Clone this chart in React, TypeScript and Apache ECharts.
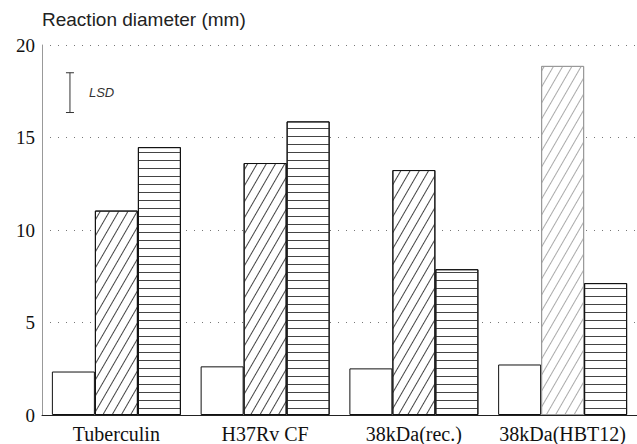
import React, { useEffect, useRef } from "react";
import * as echarts from "echarts";

const categories = ["Tuberculin", "H37Rv CF", "38kDa(rec.)", "38kDa(HBT12)"];
const seriesOpen = [2.35, 2.63, 2.52, 2.73];
const seriesHatched = [11.05, 13.62, 13.24, 18.87];
const seriesLined = [14.48, 15.87, 7.88, 7.13];
const yTicks = { min: 0, max: 20, interval: 5 };
const lsdRange = [16.35, 18.5];
const titleText = "Reaction diameter (mm)";

export default function App() {
  const ref = useRef<HTMLDivElement>(null);
  useEffect(() => {
    if (!ref.current) return;
    const chart = echarts.init(ref.current, null, { renderer: "svg" });
    const barBase = { color: "#fff", borderColor: "#111", borderWidth: 1 };
    const option: any = {
      animation: false,
      backgroundColor: "#fff",
      grid: { left: 42, top: 45, width: 608, height: 373 },
      graphic: [
        {
          type: "text",
          left: 42,
          top: 10,
          style: {
            text: titleText,
            font: "19px 'Liberation Sans', Arial, sans-serif",
            fill: "#222",
          },
        },
      ],
      xAxis: {
        type: "category",
        data: categories,
        axisTick: { show: false },
        axisLine: { lineStyle: { color: "#222", width: 1 } },
        axisLabel: {
          interval: 0,
          margin: 9,
          color: "#111",
          fontFamily: "'Liberation Serif', 'Times New Roman', serif",
          fontSize: 20,
        },
      },
      yAxis: {
        type: "value",
        min: yTicks.min,
        max: yTicks.max,
        interval: yTicks.interval,
        axisLine: { show: true, lineStyle: { color: "#999", width: 1 } },
        axisTick: { show: false },
        axisLabel: {
          margin: 7,
          color: "#111",
          fontFamily: "'Liberation Serif', 'Times New Roman', serif",
          fontSize: 19,
        },
        splitLine: { show: true, lineStyle: { color: "#777", type: [1, 7], width: 1 } },
      },
      series: [
        {
          type: "bar",
          data: seriesOpen,
          barWidth: 43,
          barGap: "0%",
          itemStyle: barBase,
        },
        {
          type: "bar",
          data: seriesHatched.map((v, i) =>
            i === 3
              ? {
                  value: v,
                  itemStyle: {
                    borderColor: "#999",
                    decal: {
                      symbol: "rect",
                      symbolSize: 1,
                      dashArrayX: [1, 0],
                      dashArrayY: [0.8, 6.7],
                      rotation: -Math.PI / 3,
                      color: "#aaa",
                    },
                  },
                }
              : v
          ),
          barWidth: 43,
          barGap: "0%",
          itemStyle: {
            ...barBase,
            decal: {
              symbol: "rect",
              symbolSize: 1,
              dashArrayX: [1, 0],
              dashArrayY: [0.8, 6.7],
              rotation: -Math.PI / 3,
              color: "#444",
            },
          },
        },
        {
          type: "bar",
          data: seriesLined,
          barWidth: 43,
          barGap: "0%",
          itemStyle: {
            ...barBase,
            decal: {
              symbol: "rect",
              symbolSize: 1,
              dashArrayX: [1, 0],
              dashArrayY: [0.9, 6.6],
              rotation: 0,
              color: "#444",
            },
          },
        },
        {
          type: "custom",
          data: [[0, lsdRange[0], lsdRange[1]]],
          z: 10,
          renderItem: (params: any, api: any) => {
            const c = api.value(0);
            const lo = api.coord([c, api.value(1)]);
            const hi = api.coord([c, api.value(2)]);
            const bw = api.size([1, 0])[0];
            const x = lo[0] - bw * 0.312;
            const cap = 4;
            const ls = { stroke: "#333", lineWidth: 1 };
            return {
              type: "group",
              children: [
                { type: "line", shape: { x1: x, y1: lo[1], x2: x, y2: hi[1] }, style: ls },
                { type: "line", shape: { x1: x - cap, y1: lo[1], x2: x + cap, y2: lo[1] }, style: ls },
                { type: "line", shape: { x1: x - cap, y1: hi[1], x2: x + cap, y2: hi[1] }, style: ls },
                {
                  type: "text",
                  x: x + 19,
                  y: (lo[1] + hi[1]) / 2,
                  style: {
                    text: "LSD",
                    font: "italic 13px 'Liberation Sans', Arial, sans-serif",
                    fill: "#333",
                    verticalAlign: "middle",
                    align: "left",
                  },
                },
              ],
            };
          },
        },
      ],
    };
    chart.setOption(option);
    return () => chart.dispose();
  }, []);
  return (
    <div
      ref={ref}
      style={{ position: "fixed", left: 0, top: 0, width: 637, height: 444, background: "#fff" }}
    />
  );
}
